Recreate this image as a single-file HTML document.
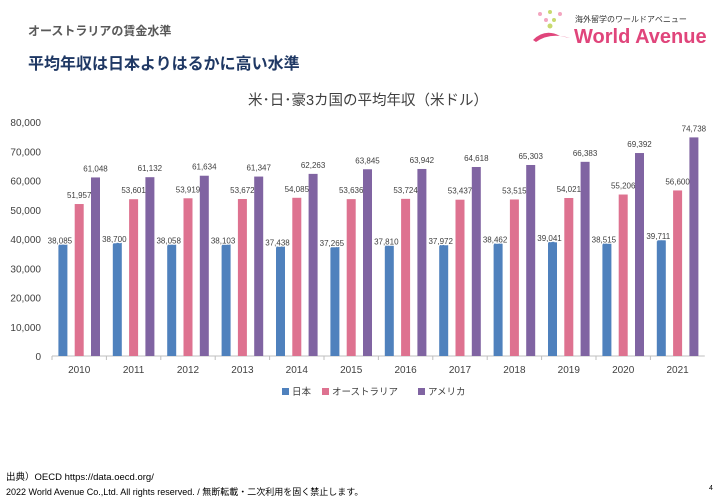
<!DOCTYPE html>
<html><head><meta charset="utf-8"><style>
body{margin:0;width:720px;height:498px;background:#fff;overflow:hidden;font-family:"Liberation Sans","Noto Sans CJK JP",sans-serif;position:relative}
.a{position:absolute;white-space:nowrap}
</style></head><body>
<div class="a" style="left:28px;top:22px;font-size:12px;color:#595959;font-weight:bold">オーストラリアの賃金水準</div>
<div class="a" style="left:28px;top:50px;font-size:16px;color:#1f3864;font-weight:bold">平均年収は日本よりはるかに高い水準</div>
<div class="a" style="left:530px;top:8px;width:185px;height:42px">
 <svg width="42" height="40" style="position:absolute;left:0;top:0"><circle cx="10" cy="6" r="2" fill="#f3a6c0"/><circle cx="20" cy="4" r="2" fill="#c8d96f"/><circle cx="30" cy="6" r="2" fill="#f3a6c0"/><circle cx="16" cy="12" r="2" fill="#f3a6c0"/><circle cx="24" cy="12" r="2" fill="#c8d96f"/><circle cx="20" cy="18" r="2.5" fill="#c8d96f"/><path d="M3 32 Q15 20 30 28 L40 30 Q20 24 6 34 Z" fill="#e0457b"/></svg>
 <div class="a" style="left:45px;top:6px;font-size:8px;color:#333">海外留学のワールドアベニュー</div>
 <div class="a" style="left:44px;top:18px;font-size:20px;color:#e0457b;font-weight:bold">World Avenue</div>
</div>
<div class="a" style="width:720px;text-align:center;left:8px;top:89px;font-size:14.5px;color:#404040">米･日･豪3カ国の平均年収（米ドル）</div>
<svg id="chart" class="a" style="left:0;top:0" width="720" height="498"></svg>
<div class="a" style="left:6px;top:469px;font-size:9.5px;color:#000">出典）OECD https://data.oecd.org/</div>
<div class="a" style="left:6px;top:485px;font-size:9px;color:#000">2022 World Avenue Co.,Ltd. All rights reserved. / 無断転載・二次利用を固く禁止します。</div>
<div class="a" style="left:709px;top:485px;font-size:7px;color:#000">4</div>
<script>
const years=["2010","2011","2012","2013","2014","2015","2016","2017","2018","2019","2020","2021"];
const japan=[38085,38700,38058,38103,37438,37265,37810,37972,38462,39041,38515,39711];
const australia=[51957,53601,53919,53672,54085,53636,53724,53437,53515,54021,55206,56600];
const usa=[61048,61132,61634,61347,62263,63845,63942,64618,65303,66383,69392,74738];
const seriesNames=["日本","オーストラリア","アメリカ"];
const yTicks=[0,10000,20000,30000,40000,50000,60000,70000,80000];
const colors=["#4f81bd","#de7290","#8064a2"];
const svg=document.getElementById('chart');const NS='http://www.w3.org/2000/svg';
const x0=52,cw=54.4,base=356,sc=29.25/10000;
const y=v=>base-v*sc;const xc=i=>x0+cw*(i+0.5);
function mk(t,a){const e=document.createElementNS(NS,t);for(const k in a)e.setAttribute(k,a[k]);svg.appendChild(e);return e;}
const fmt=v=>v.toLocaleString('en-US');
yTicks.forEach(v=>{const t=mk('text',{x:41,y:y(v)+4,'text-anchor':'end','font-size':10,fill:'#404040'});t.textContent=fmt(v);
});
const ax=mk('line',{x1:x0,x2:x0+cw*years.length,y1:base,y2:base,stroke:'#bfbfbf'});

const all=[japan,australia,usa];
years.forEach((yr,i)=>{
 mk('line',{x1:x0+cw*i,x2:x0+cw*i,y1:base,y2:base+4,stroke:'#bfbfbf'});
 const t=mk('text',{x:xc(i),y:base+17,'text-anchor':'middle','font-size':10,fill:'#404040'});t.textContent=yr;
 
 all.forEach((s,k)=>{const cx=xc(i)+(k-1)*16.3;
  const r=mk('rect',{x:cx-4.5,y:y(s[i]),width:9,height:base-y(s[i]),fill:colors[k]});
  
  let lx=cx,ly=y(s[i])-6;
  if(k==0){lx=cx-3;ly=y(s[i])-1;}
  const l=mk('text',{x:lx,y:ly,'text-anchor':'middle','font-size':8,fill:'#404040'});l.textContent=fmt(s[i]);
  if(k==0){l.setAttribute('paint-order','stroke');l.setAttribute('stroke','#fff');l.setAttribute('stroke-width','2.5');}
  
 });
});
const lx=[282,322,418];
seriesNames.forEach((n,k)=>{const r=mk('rect',{x:lx[k],y:388,width:7,height:7,fill:colors[k]});
 
 const t=mk('text',{x:lx[k]+10,y:395,'font-size':9.5,fill:'#404040'});t.textContent=n;
 });
</script>
</body></html>
